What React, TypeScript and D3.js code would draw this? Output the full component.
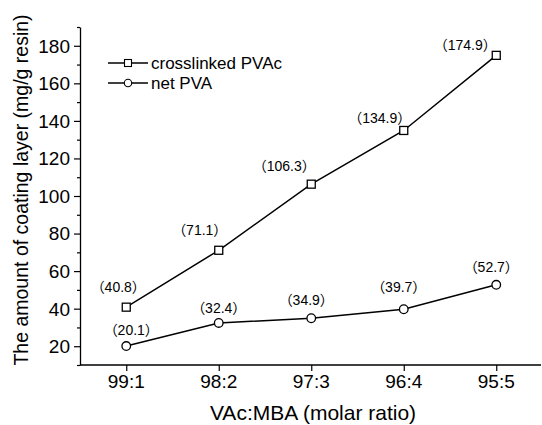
import { useEffect, useRef } from 'react';
import * as d3 from 'd3';

const ratios = ['99:1', '98:2', '97:3', '96:4', '95:5'];
const crosslinkedPVAc = [40.8, 71.1, 106.3, 134.9, 174.9];
const netPVA = [20.1, 32.4, 34.9, 39.7, 52.7];
const yTicks = [20, 40, 60, 80, 100, 120, 140, 160, 180];

// where each value label sits relative to its point (hand placed in the original)
const crosslinkedLabelShift = [[-8, -20], [-19, -20], [-27, -18], [-24, -13], [-31, -10]];
const netLabelShift = [[5, -16], [0, -15], [-5, -18], [-5, -22], [-5, -18]];

const W = 542;
const H = 425;
const FONT = "Arial, 'Liberation Sans', 'Noto Sans CJK SC', sans-serif";

export default function App() {
  const svgRef = useRef<SVGSVGElement>(null);

  useEffect(() => {
    if (!svgRef.current) return;
    const svg = d3.select(svgRef.current);
    svg.selectAll('*').remove();

    const x = d3.scalePoint<string>().domain(ratios).range([80, 542.5]).padding(0.5);
    const y = d3.scaleLinear().domain([10, 190]).range([365, 27]);

    const g = svg.append('g').attr('font-family', FONT);

    // y axis
    const yAxis = d3
      .axisLeft(y)
      .tickValues(d3.range(10, 191, 10))
      .tickSize(0)
      .tickFormat(() => '');
    const ya = g.append('g').attr('transform', 'translate(80,0)').call(yAxis);
    ya.select('.domain').attr('stroke', '#000').attr('stroke-width', 1.3);
    ya.selectAll('.tick line')
      .attr('x2', (d) => ((d as number) % 20 === 0 ? -6 : -3))
      .attr('stroke', '#000')
      .attr('stroke-width', 1.2);

    g.append('g')
      .selectAll('text')
      .data(yTicks)
      .enter()
      .append('text')
      .attr('x', 70)
      .attr('y', (d) => y(d))
      .attr('dy', '0.36em')
      .attr('text-anchor', 'end')
      .attr('font-size', 19)
      .text((d) => d);

    // x axis
    const xAxis = d3.axisBottom(x).tickSize(6).tickFormat(() => '');
    const xa = g.append('g').attr('transform', 'translate(0,365)').call(xAxis);
    xa.select('.domain').attr('d', `M80,0H541`).attr('stroke', '#000').attr('stroke-width', 1.3);
    xa.selectAll('.tick line').attr('stroke', '#000').attr('stroke-width', 1.2);

    g.append('g')
      .selectAll('text')
      .data(ratios)
      .enter()
      .append('text')
      .attr('x', (d) => x(d)!)
      .attr('y', 388)
      .attr('text-anchor', 'middle')
      .attr('font-size', 19)
      .text((d) => d);

    // titles
    g.append('text')
      .attr('x', 313)
      .attr('y', 420)
      .attr('text-anchor', 'middle')
      .attr('font-size', 21)
      .text('VAc:MBA (molar ratio)');

    g.append('text')
      .attr('transform', 'translate(28,190) rotate(-90)')
      .attr('text-anchor', 'middle')
      .attr('font-size', 19.5)
      .text('The amount of coating layer (mg/g resin)');

    const line = d3
      .line<number>()
      .x((_, i) => x(ratios[i])!)
      .y((d) => y(d));

    const drawSeries = (vals: number[], shifts: number[][], marker: 'square' | 'circle') => {
      const s = g.append('g');
      s.append('path')
        .attr('d', line(vals))
        .attr('fill', 'none')
        .attr('stroke', '#000')
        .attr('stroke-width', 1.5);
      if (marker === 'square') {
        s.selectAll('rect')
          .data(vals)
          .enter()
          .append('rect')
          .attr('x', (_, i) => x(ratios[i])! - 4)
          .attr('y', (d) => y(d) - 4)
          .attr('width', 8)
          .attr('height', 8)
          .attr('fill', '#fff')
          .attr('stroke', '#000')
          .attr('stroke-width', 1.3);
      } else {
        s.selectAll('circle')
          .data(vals)
          .enter()
          .append('circle')
          .attr('cx', (_, i) => x(ratios[i])!)
          .attr('cy', (d) => y(d))
          .attr('r', 4.3)
          .attr('fill', '#fff')
          .attr('stroke', '#000')
          .attr('stroke-width', 1.3);
      }
      s.selectAll('text')
        .data(vals)
        .enter()
        .append('text')
        .attr('x', (_, i) => x(ratios[i])! + shifts[i][0])
        .attr('y', (d, i) => y(d) + shifts[i][1])
        .attr('dy', '0.36em')
        .attr('text-anchor', 'middle')
        .attr('font-size', 14)
        .text((d) => `（${d.toFixed(1)}）`);
    };

    drawSeries(crosslinkedPVAc, crosslinkedLabelShift, 'square');
    drawSeries(netPVA, netLabelShift, 'circle');

    // legend
    const legend = g.append('g');
    const items = [
      { name: 'crosslinked PVAc', marker: 'square' },
      { name: 'net PVA', marker: 'circle' },
    ];
    items.forEach((it, i) => {
      const ly = 63 + i * 20;
      const row = legend.append('g');
      row.append('line')
        .attr('x1', 108)
        .attr('x2', 148)
        .attr('y1', ly)
        .attr('y2', ly)
        .attr('stroke', '#000')
        .attr('stroke-width', 1.5);
      if (it.marker === 'square') {
        row.append('rect')
          .attr('x', 124.5)
          .attr('y', ly - 3.5)
          .attr('width', 7)
          .attr('height', 7)
          .attr('fill', '#fff')
          .attr('stroke', '#000')
          .attr('stroke-width', 1.1);
      } else {
        row.append('circle')
          .attr('cx', 128)
          .attr('cy', ly)
          .attr('r', 3.7)
          .attr('fill', '#fff')
          .attr('stroke', '#000')
          .attr('stroke-width', 1.1);
      }
      row.append('text')
        .attr('x', 151)
        .attr('y', ly)
        .attr('dy', '0.36em')
        .attr('font-size', 17)
        .text(it.name);
    });
  }, []);

  return (
    <svg
      ref={svgRef}
      width={W}
      height={H}
      style={{ position: 'absolute', left: 0, top: 0, background: '#fff' }}
    />
  );
}
